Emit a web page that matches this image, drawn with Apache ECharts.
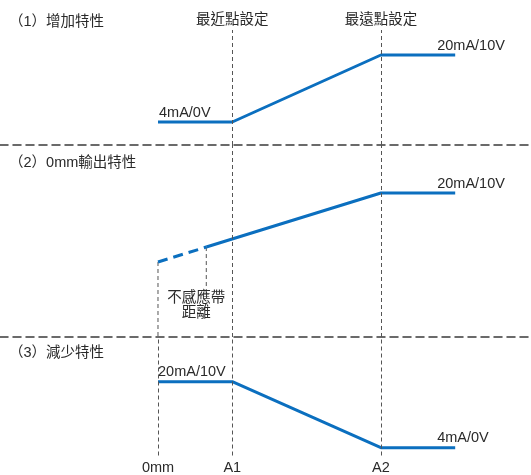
<!DOCTYPE html>
<html><head><meta charset="utf-8">
<script src="https://cdn.jsdelivr.net/npm/echarts@6/dist/echarts.min.js"></script>
<style>html,body{margin:0;padding:0;background:#fff}#c{width:531px;height:475px}</style>
</head><body><div id="c"></div>
<script>
// ---- data ----
const panelTitles = ['（1）增加特性', '（2）0mm輸出特性', '（3）減少特性'];
const distNames = ['0mm', 'A1', 'A2'];
const distPos = [0, 1, 3];              // 0mm, A1 (nearest), A2 (farthest)
const setNames = ['最近點設定', '最遠點設定'];
const setPos = [1, 3];
const lowLabel = '4mA/0V';
const highLabel = '20mA/10V';
const deadLabel = '不感應帶\n距離';
// (1) increasing
const incX = [0, 1, 3, 4];
const incY = [4, 4, 20, 20];
// (2) 0mm output: dashed part within dead band, then solid
const zeroDashX = [0, 0.65];
const zeroDashY = [4, 7.47];
const zeroSolidX = [0.65, 3, 4];
const zeroSolidY = [7.47, 20, 20];
// (3) decreasing
const decX = [0, 1, 3, 4];
const decY = [20, 20, 4, 4];
// guide line extents in panel 2 (mA units)
const zeroGuideY = [4, -13.39];
const deadGuideY = [7.47, -3.19];

// ---- layout ----
const FONT = '"Liberation Sans", "Noto Sans CJK TC", sans-serif';
const FS = 14.5;
const BLUE = '#0b6fbf';
const TXT = '#2a2a2a';
const xMin = -2.1265, xMax = 5.0202;
const grids = [
  {top: 30, height: 115, min: -1.4925, max: 25.970},
  {top: 145, height: 192, min: -13.391, max: 31.130},
  {top: 337, height: 122, min: 2.118, max: 30.824}
];
const zip = (a, b) => a.map((v, i) => [v, b[i]]);
const vDash = {color: '#555', width: 1, type: [4, 3]};

function xAxisFor(i) {
  const base = {gridIndex: i, type: 'value', min: xMin, max: xMax, splitLine: {show: false},
    axisTick: {show: false}};
  if (i < 2) {
    return Object.assign(base, {axisLabel: {show: false},
      axisLine: {show: true, onZero: false, lineStyle: {color: '#3a3a3a', width: 1.5, type: [8, 5]}}});
  }
  return Object.assign(base, {axisLine: {show: false, onZero: false},
    axisLabel: {show: true, customValues: distPos, margin: 5, fontSize: FS, fontFamily: FONT, color: TXT,
      formatter: v => distNames[distPos.indexOf(v)]}});
}

function vMark(xs, withLabel) {
  return {silent: true, symbol: ['none', 'none'], lineStyle: vDash, animation: false,
    label: withLabel ? {show: true, position: 'end', distance: 3, fontSize: FS, fontFamily: FONT, color: TXT,
      formatter: p => setNames[setPos.indexOf(p.value)]} : {show: false},
    data: xs.map(x => ({xAxis: x}))};
}

const lblStyle = {fontSize: FS, fontFamily: FONT, color: TXT};
function withLabels(pts, map) {
  return pts.map((p, i) => map[i] ? {value: p, label: Object.assign({show: true}, lblStyle, map[i])} : p);
}
const noSym = {symbol: 'circle', symbolSize: 0, showSymbol: true, showAllSymbol: true};

const option = {
  animation: false,
  title: panelTitles.map((t, i) => ({text: t, left: 9, top: [15, 156, 346][i], padding: 0,
    textStyle: {fontSize: FS, fontWeight: 'normal', fontFamily: FONT, color: TXT}})),
  grid: grids.map(g => ({left: 0, right: 0, top: g.top, height: g.height})),
  xAxis: [0, 1, 2].map(xAxisFor),
  yAxis: grids.map((g, i) => ({gridIndex: i, type: 'value', min: g.min, max: g.max, show: false})),
  series: [
    Object.assign({type: 'line', xAxisIndex: 0, yAxisIndex: 0, lineStyle: {color: BLUE, width: 3},
      data: withLabels(zip(incX, incY), {
        0: {formatter: lowLabel, position: 'top', align: 'left', distance: 2, offset: [1, 0]},
        3: {formatter: highLabel, position: 'top', align: 'left', distance: 2, offset: [-18, 0]}}),
      markLine: vMark(setPos, true)}, noSym),
    {type: 'line', xAxisIndex: 1, yAxisIndex: 1, symbol: 'none', lineStyle: {color: BLUE, width: 3, type: [10, 6]},
      data: zip(zeroDashX, zeroDashY)},
    Object.assign({type: 'line', xAxisIndex: 1, yAxisIndex: 1, lineStyle: {color: BLUE, width: 3},
      data: withLabels(zip(zeroSolidX, zeroSolidY), {
        2: {formatter: highLabel, position: 'top', align: 'left', distance: 2, offset: [-18, 0]}}),
      markLine: vMark([distPos[1], distPos[2]], false)}, noSym),
    {type: 'line', xAxisIndex: 1, yAxisIndex: 1, symbol: 'none', lineStyle: vDash, z: 1,
      data: zip([distPos[0], distPos[0]], zeroGuideY)},
    Object.assign({type: 'line', xAxisIndex: 1, yAxisIndex: 1, lineStyle: vDash, z: 1,
      data: withLabels(zip([zeroDashX[1], zeroDashX[1]], deadGuideY), {
        1: {formatter: deadLabel, position: 'bottom', align: 'center', distance: 0, offset: [-10, -3], lineHeight: 15}})}, noSym),
    Object.assign({type: 'line', xAxisIndex: 2, yAxisIndex: 2, lineStyle: {color: BLUE, width: 3},
      data: withLabels(zip(decX, decY), {
        0: {formatter: highLabel, position: 'top', align: 'left', distance: 2},
        3: {formatter: lowLabel, position: 'top', align: 'left', distance: 2, offset: [-18, 0]}}),
      markLine: vMark(distPos, false)}, noSym)
  ]
};
const chart = echarts.init(document.getElementById('c'), null, {renderer: 'canvas'});
chart.setOption(option);
</script></body></html>
